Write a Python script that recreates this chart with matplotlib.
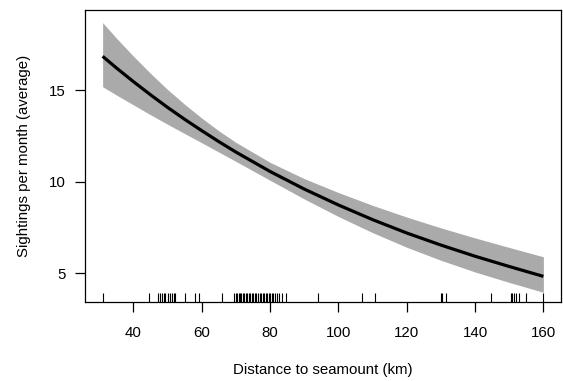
import numpy as np
import matplotlib
matplotlib.use("Agg")
import matplotlib.pyplot as plt

plt.rcParams['font.family'] = ['Liberation Sans', 'DejaVu Sans']

# fitted curve
dist = [31, 35, 40, 45, 50, 55, 60, 65, 70, 80, 90, 100, 110, 120, 130, 140, 150, 160]
fit = [16.84, 16.21, 15.46, 14.74, 14.05, 13.40, 12.78, 12.18, 11.61, 10.55, 9.59, 8.72,
       7.92, 7.19, 6.53, 5.92, 5.36, 4.82]
upper = [18.68, 17.84, 16.85, 15.91, 15.03, 14.22, 13.47, 12.77, 12.14, 11.05, 10.16, 9.40,
         8.70, 8.06, 7.47, 6.92, 6.40, 5.89]
lower = [15.18, 14.73, 14.19, 13.65, 13.13, 12.62, 12.12, 11.61, 11.10, 10.07, 9.05, 8.09,
         7.21, 6.41, 5.70, 5.06, 4.49, 3.95]

# observed distances (rug)
rug_x = [31.1, 44.5, 47.2, 47.7, 48.3, 48.9, 49.2, 50.1, 50.6, 51.2, 51.8, 52.1, 55.0,
         58.0, 59.1, 65.8,
         69.5, 70.0, 70.4, 70.8, 71.2, 71.6, 72.0, 72.5, 73.0, 73.3, 73.8, 74.2, 74.7,
         75.1, 75.6, 76.0, 76.5, 77.0, 77.4, 77.9, 78.3, 78.8, 79.2, 79.7, 80.1, 80.6,
         81.0, 81.5, 82.0, 82.5, 83.5, 84.6,
         94.0, 107.0, 110.7, 129.9, 130.3, 131.6, 144.6,
         150.4, 150.9, 151.5, 152.1, 152.8, 155.0, 160.0]

xticks = [40, 60, 80, 100, 120, 140, 160]
yticks = [5, 10, 15]

fig = plt.figure(figsize=(5.63, 3.81), dpi=100)
ax = fig.add_axes([85 / 563, 1 - 302 / 381, (561 - 85) / 563, (302 - 10) / 381])

ax.fill_between(dist, lower, upper, color='#aaaaaa', lw=0)
ax.plot(dist, fit, color='black', lw=2.3, solid_capstyle='butt')
ax.vlines(rug_x, 0, 0.03, transform=ax.get_xaxis_transform(), colors='black', lw=0.8)

ax.set_xlim(25.84, 165.16)
ax.set_ylim(3.42, 19.37)
ax.set_xticks(xticks)
ax.set_yticks(yticks)

for s in ax.spines.values():
    s.set_linewidth(0.9)
    s.set_color('black')
ax.tick_params(direction='out', length=7, width=0.9, labelsize=10.8, color='black')
ax.tick_params(axis='x', pad=10)
ax.tick_params(axis='y', pad=7)

ax.set_xlabel('Distance to seamount (km)', fontsize=10.8, labelpad=17)
ax.set_ylabel('Sightings per month (average)', fontsize=10.8, labelpad=13)

fig.savefig('out.png', dpi=100)
